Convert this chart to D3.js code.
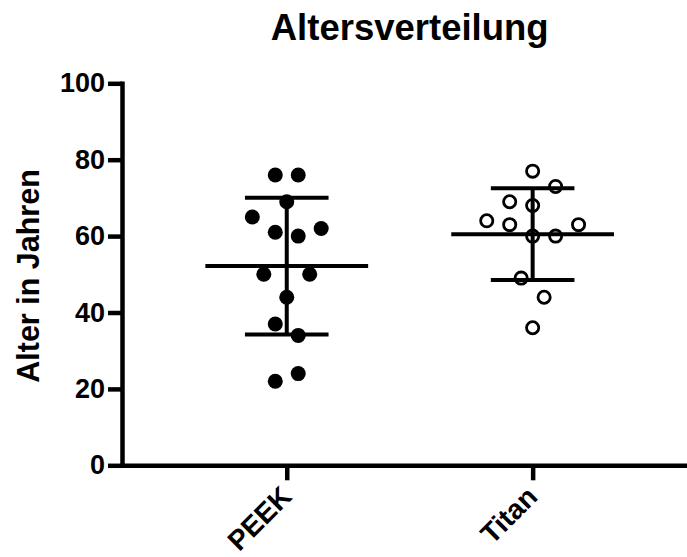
<!DOCTYPE html>
<html>
<head>
<meta charset="utf-8">
<script src="https://cdn.jsdelivr.net/npm/d3@7"></script>
<style>
  html, body { margin: 0; padding: 0; background: #fff; }
  svg { display: block; }
  text { font-family: "Liberation Sans", Arial, Helvetica, sans-serif; font-weight: bold; fill: #000; }
</style>
</head>
<body>
<div id="chart"></div>
<script>
// ---- data ----
const title = "Altersverteilung";
const yLabel = "Alter in Jahren";
const categories = ["PEEK", "Titan"];
const peekAges = [76, 76, 69, 65, 61, 60, 62, 50, 44, 50, 37, 34, 22, 24];
const titanAges = [77, 69, 68, 73, 64, 63, 60, 60, 63, 49, 44, 36];
const yTicks = [0, 20, 40, 60, 80, 100];

// ---- layout ----
const W = 687, H = 557;
const axisW = 4.5;
const tickLen = 14;
const dotR = 7.5;
const rowBand = 7;           // values within this range (from the row's lowest) share a row
const slot = dotR * 1.53;    // horizontal spacing unit

const svg = d3.select("#chart").append("svg")
  .attr("width", W).attr("height", H);

const y = d3.scaleLinear().domain([0, 100]).range([465.3, 83.3]);
const x = d3.scalePoint().domain(categories).range([122, 697.4]).padding(0.67);
const step = x.step();

const groups = [
  { name: categories[0], values: peekAges, filled: true },
  { name: categories[1], values: titanAges, filled: false }
];

// row-based spread of points (rows built from the lowest value upward)
function spread(values) {
  const order = d3.range(values.length).sort((a, b) => values[a] - values[b] || a - b);
  const rows = [];
  let cur = null;
  order.forEach(i => {
    if (!cur || values[i] - values[cur.first] >= rowBand) {
      cur = { first: i, members: [] };
      rows.push(cur);
    }
    cur.members.push(i);
  });
  const off = new Array(values.length).fill(0);
  rows.forEach(r => {
    const m = r.members.slice().sort((a, b) => a - b);
    const n = m.length;
    m.forEach((idx, k) => { off[idx] = (k - (n - 1) / 2) * 2 * slot; });
  });
  return off;
}

// ---- axes ----
const yAxis = svg.append("g")
  .attr("transform", `translate(${x.range()[0]},0)`)
  .call(d3.axisLeft(y).tickValues(yTicks).tickSize(tickLen).tickSizeOuter(0).tickPadding(3));
const xAxis = svg.append("g")
  .attr("transform", `translate(0,${y(0)})`)
  .call(d3.axisBottom(x).tickSize(tickLen + 1).tickSizeOuter(0));

[yAxis, xAxis].forEach(g => {
  g.select(".domain").attr("stroke", "#000").attr("stroke-width", axisW).attr("stroke-linecap", "square");
  g.selectAll(".tick line").attr("stroke", "#000").attr("stroke-width", axisW);
  g.attr("font-size", null).attr("font-family", null);
});
yAxis.selectAll(".tick text").style("font-size", "27px");
xAxis.selectAll(".tick text")
  .style("font-size", "28px")
  .attr("x", 0).attr("y", 0).attr("dy", 0)
  .attr("text-anchor", "end")
  .attr("transform", "translate(6,33) rotate(-45)");

// ---- marks ----
groups.forEach(g => {
  const cx = x(g.name);
  const m = d3.mean(g.values);
  const sd = d3.deviation(g.values);
  const layer = svg.append("g");
  const off = spread(g.values);

  // mean line
  layer.append("line")
    .attr("x1", cx - step * 0.331).attr("x2", cx + step * 0.331)
    .attr("y1", y(m)).attr("y2", y(m))
    .attr("stroke", "#000").attr("stroke-width", 4);
  // SD whisker
  layer.append("line")
    .attr("x1", cx).attr("x2", cx)
    .attr("y1", y(m + sd)).attr("y2", y(m - sd))
    .attr("stroke", "#000").attr("stroke-width", 4);
  [m + sd, m - sd].forEach(v => {
    layer.append("line")
      .attr("x1", cx - step * 0.17).attr("x2", cx + step * 0.17)
      .attr("y1", y(v)).attr("y2", y(v))
      .attr("stroke", "#000").attr("stroke-width", 4);
  });

  layer.selectAll("circle")
    .data(g.values)
    .join("circle")
    .attr("cx", (d, i) => cx + off[i])
    .attr("cy", d => y(d))
    .attr("r", g.filled ? dotR : dotR - 1.4)
    .attr("fill", g.filled ? "#000" : "none")
    .attr("stroke", "#000")
    .attr("stroke-width", g.filled ? 0 : 2.8);
});

// ---- titles ----
svg.append("text")
  .attr("x", (x(categories[0]) + x(categories[1])) / 2)
  .attr("y", 40)
  .attr("text-anchor", "middle")
  .style("font-size", "36.5px")
  .text(title);

svg.append("text")
  .attr("transform", `translate(39,276) rotate(-90)`)
  .attr("text-anchor", "middle")
  .style("font-size", "30.5px")
  .text(yLabel);
</script>
</body>
</html>
